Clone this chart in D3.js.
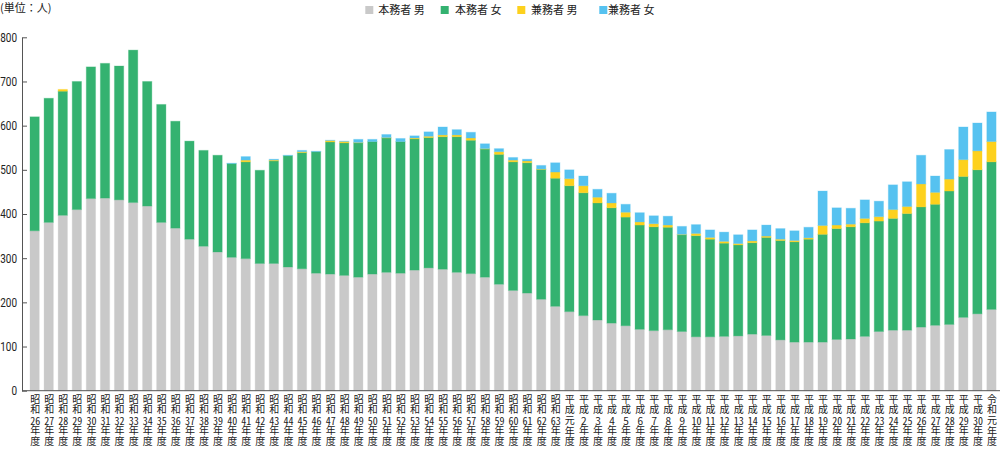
<!DOCTYPE html>
<html>
<head>
<meta charset="utf-8">
<script src="https://cdn.jsdelivr.net/npm/d3@7"></script>
<style>
  body { margin: 0; background: #fff; }
  #chart { position: relative; width: 1000px; height: 452px; }
  svg { display: block; }
  .xlab {
    position: absolute;
    top: 394px;
    width: 10px;
    writing-mode: vertical-rl;
    text-orientation: upright;
    font-family: 'Noto Sans CJK JP', sans-serif;
    font-size: 10px;
    line-height: 10px;
    letter-spacing: 0.6px;
    color: #222;
    white-space: nowrap;
  }
  .xlab .num { text-combine-upright: all; }
</style>
</head>
<body>
<div id="chart"><svg width="1000" height="452"></svg></div>
<script>
// 年度
const categories = [
  "昭和26年度","昭和27年度","昭和28年度","昭和29年度","昭和30年度","昭和31年度","昭和32年度","昭和33年度",
  "昭和34年度","昭和35年度","昭和36年度","昭和37年度","昭和38年度","昭和39年度","昭和40年度","昭和41年度",
  "昭和42年度","昭和43年度","昭和44年度","昭和45年度","昭和46年度","昭和47年度","昭和48年度","昭和49年度",
  "昭和50年度","昭和51年度","昭和52年度","昭和53年度","昭和54年度","昭和55年度","昭和56年度","昭和57年度",
  "昭和58年度","昭和59年度","昭和60年度","昭和61年度","昭和62年度","昭和63年度",
  "平成元年度","平成2年度","平成3年度","平成4年度","平成5年度","平成6年度","平成7年度","平成8年度",
  "平成9年度","平成10年度","平成11年度","平成12年度","平成13年度","平成14年度","平成15年度","平成16年度",
  "平成17年度","平成18年度","平成19年度","平成20年度","平成21年度","平成22年度","平成23年度","平成24年度",
  "平成25年度","平成26年度","平成27年度","平成28年度","平成29年度","平成30年度",
  "令和元年度"
];

// 本務者 男
const honmuMale = [362,381,397,410,435,436,432,426,418,381,368,343,327,314,302,299,288,288,280,276,
  266,264,261,257,264,268,266,273,278,275,268,265,257,241,227,221,207,191,179,170,
  160,153,147,139,136,138,134,122,122,123,124,128,125,115,110,110,110,116,117,123,
  134,137,137,144,148,150,166,174,184];
// 本務者 女
const honmuFemale = [258,281,281,290,298,305,303,345,282,267,242,222,217,219,212,219,211,232,252,263,
  275,299,300,304,300,304,298,297,295,300,307,302,290,294,291,295,294,290,285,278,
  265,261,246,236,235,232,219,229,221,211,206,207,222,225,227,233,244,251,254,257,
  250,253,264,272,274,302,319,326,334];
// 兼務者 男
const kenmuMale = [0,0,4,0,0,0,0,0,0,0,0,0,0,0,0,4,0,2,0,2,
  0,3,3,1,0,1,0,2,3,4,4,5,1,6,4,4,1,14,16,16,
  13,11,11,7,7,5,1,5,4,4,3,4,3,3,3,3,20,8,6,10,
  10,20,16,52,27,27,38,43,46];
// 兼務者 女
const kenmuFemale = [0,0,0,0,0,0,0,0,0,0,0,0,0,0,1,8,0,2,1,3,
  1,1,1,7,5,7,7,5,10,18,12,13,11,7,6,4,8,21,20,22,
  18,22,18,21,18,20,18,20,17,21,20,25,25,24,22,24,78,39,36,42,
  35,56,56,65,37,67,74,63,67];

const seriesNames = ["本務者 男", "本務者 女", "兼務者 男", "兼務者 女"];
const yTicks = [0, 100, 200, 300, 400, 500, 600, 700, 800];

const colors = ["#c9c9c9", "#34b270", "#fdd11d", "#56c2f0"];
const cjk = "'Noto Sans CJK JP', 'Noto Sans', sans-serif";
const numFont = "'Roboto', 'Liberation Sans', sans-serif";

const svg = d3.select("svg");

const rows = categories.map((c, i) => ({
  cat: c,
  [seriesNames[0]]: honmuMale[i],
  [seriesNames[1]]: honmuFemale[i],
  [seriesNames[2]]: kenmuMale[i],
  [seriesNames[3]]: kenmuFemale[i]
}));

const stacked = d3.stack().keys(seriesNames)(rows);

const x = d3.scaleBand()
    .domain(categories)
    .range([30, 996.1])
    .paddingInner(0.34)
    .paddingOuter(0);

const y = d3.scaleLinear()
    .domain([0, 800])
    .range([390.7, 37.3]);

// bars
svg.append("g")
  .selectAll("g")
  .data(stacked)
  .join("g")
    .attr("fill", (d, i) => colors[i])
    .attr("stroke", (d, i) => colors[i])
    .attr("stroke-opacity", 0.3)
    .attr("stroke-width", 1)
  .selectAll("rect")
  .data(d => d)
  .join("rect")
    .attr("x", d => x(d.data.cat))
    .attr("y", d => y(d[1]))
    .attr("width", x.bandwidth())
    .attr("height", d => Math.max(0, y(d[0]) - y(d[1])));

// y axis
const yAxis = svg.append("g")
    .attr("transform", "translate(22,0)")
    .call(d3.axisLeft(y).tickValues(yTicks).tickSizeInner(-5).tickSizeOuter(0).tickPadding(5));
yAxis.select(".domain").attr("stroke", "#555");
yAxis.selectAll(".tick line").attr("stroke", "#555");
yAxis.selectAll(".tick text")
    .attr("fill", "#222")
    .attr("textLength", d => String(d).length * 5.6)
    .attr("lengthAdjust", "spacingAndGlyphs")
    .style("font-family", numFont)
    .style("font-size", "12px");

// x axis line
svg.append("line")
    .attr("x1", 22).attr("x2", 1000)
    .attr("y1", y(0)).attr("y2", y(0))
    .attr("stroke", "#555");

// x labels: vertical writing, numbers set tate-chu-yoko
d3.select("#chart").selectAll("div.xlab")
  .data(categories)
  .join("div")
    .attr("class", "xlab")
    .style("left", c => (x(c) + x.bandwidth() / 2 - 5) + "px")
    .each(function(c) {
      const m = c.match(/^(..)(.+)(年度)$/);
      const el = d3.select(this);
      el.append("span").text(m[1]);
      el.append("span").attr("class", /\d/.test(m[2]) ? "num" : null).text(m[2]);
      el.append("span").text(m[3]);
    });

// unit
svg.append("text")
    .attr("x", 0).attr("y", 11.5)
    .attr("fill", "#222")
    .style("font-family", cjk)
    .style("font-size", "11px")
    .text("(単位：人)");

// legend
const legendBox = [365.3, 440.7, 517.3, 599.3];
const legendText = [378.3, 455, 531, 608];
const legend = svg.append("g")
  .selectAll("g")
  .data(seriesNames)
  .join("g");
legend.append("rect")
    .attr("x", (d, i) => legendBox[i])
    .attr("y", 6)
    .attr("width", 8).attr("height", 8)
    .attr("fill", (d, i) => colors[i]);
legend.append("text")
    .attr("x", (d, i) => legendText[i])
    .attr("y", 14)
    .attr("fill", "#222")
    .style("font-family", cjk)
    .style("font-size", "11px")
    .text(d => d);
</script>
</body>
</html>
